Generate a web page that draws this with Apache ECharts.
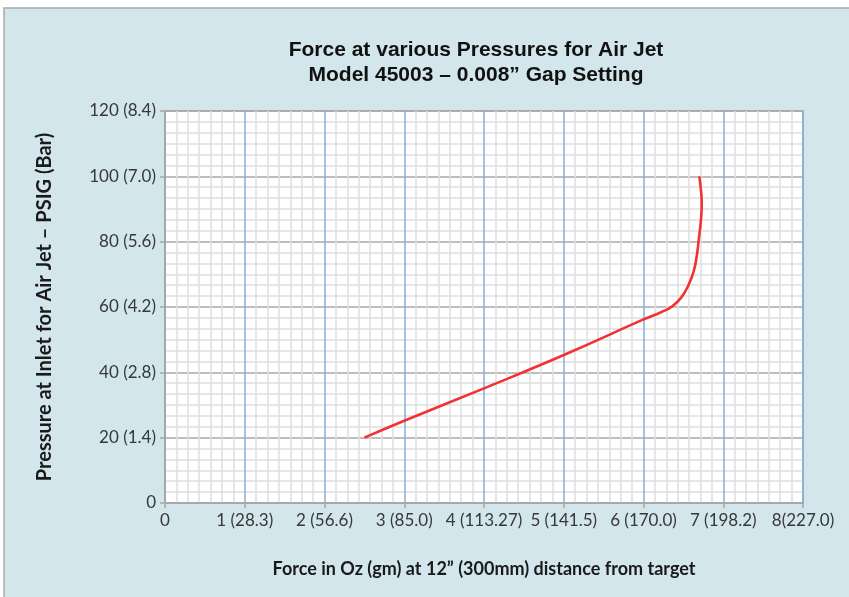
<!DOCTYPE html>
<html>
<head>
<meta charset="utf-8">
<script src="https://cdn.jsdelivr.net/npm/echarts@6/dist/echarts.min.js"></script>
<style>
html,body{margin:0;padding:0;background:#fff;}
#c{width:849px;height:597px;}
</style>
</head>
<body>
<div id="c"></div>
<script>
// Tick values and labels
const xTicks = [0, 1, 2, 3, 4, 5, 6, 7, 8];
const xTickLabels = ['0', '1 (28.3)', '2 (56.6)', '3 (85.0)', '4 (113.27)', '5 (141.5)', '6 (170.0)', '7 (198.2)', '8(227.0)'];
const yTicks = [0, 20, 40, 60, 80, 100, 120];
const yTickLabels = ['0', '20 (1.4)', '40 (2.8)', '60 (4.2)', '80 (5.6)', '100 (7.0)', '120 (8.4)'];

// Curve: force (oz) vs pressure (PSIG)
const forceOz = [2.5, 3.0, 4.0, 5.0, 6.0, 6.22, 6.36, 6.47, 6.56, 6.63, 6.67, 6.69, 6.72, 6.73, 6.72, 6.70];
const pressurePsig = [20, 25.2, 35.1, 45.3, 56.2, 58.4, 60.2, 62.8, 66.5, 71.0, 76.0, 80, 86.6, 91.7, 95.8, 100];

const titleLines = ['Force at various Pressures for Air Jet', 'Model 45003 \u2013 0.008\u201d Gap Setting'];
const xName = 'Force in Oz (gm) at 12\u201d (300mm) distance from target';
const yName = 'Pressure at Inlet for Air Jet \u2013 PSIG (Bar)';

const chart = echarts.init(document.getElementById('c'), null, {renderer: 'canvas'});

function labelFor(ticks, labels) {
  return function (v) {
    const i = ticks.findIndex(t => Math.abs(t - v) < 1e-9);
    return i >= 0 ? labels[i] : '';
  };
}

const lblFont = {fontFamily: 'Lato', fontSize: 17, color: '#383838'};

chart.setOption({
  animation: false,
  backgroundColor: 'transparent',
  graphic: [{
    type: 'rect', z: -10, silent: true,
    shape: {x: 4, y: 8, width: 900, height: 700},
    style: {fill: '#d2e6eb', stroke: '#a9a9a9', lineWidth: 1.5}
  }],
  title: {
    text: titleLines.join('\n'),
    left: 471, top: 33, textAlign: 'center',
    textStyle: {fontFamily: 'Liberation Sans', fontWeight: 'bold', fontSize: 21, lineHeight: 25, color: '#111'}
  },
  grid: {
    left: 165, right: 46, top: 111, bottom: 94,
    show: true, backgroundColor: '#ffffff', borderColor: '#a6a6a6', borderWidth: 1.5
  },
  xAxis: {
    type: 'value', min: 0, max: 8, interval: 1,
    name: xName, nameLocation: 'middle', nameGap: 57,
    nameTextStyle: {fontFamily: 'Lato', fontWeight: 'bold', fontSize: 18, color: '#1a1a1a'},
    axisLine: {show: true, lineStyle: {color: '#a6a6a6', width: 1.5}},
    axisTick: {show: true, length: 5, lineStyle: {color: '#a6a6a6', width: 1.5}},
    axisLabel: Object.assign({margin: 9, formatter: labelFor(xTicks, xTickLabels)}, lblFont),
    splitLine: {show: true, lineStyle: {color: '#85acd9', width: 1.5}},
    minorTick: {show: false, splitNumber: 7},
    minorSplitLine: {show: true, lineStyle: {color: '#e0e0e0', width: 1.5}}
  },
  yAxis: {
    type: 'value', min: 0, max: 120, interval: 20,
    name: yName, nameLocation: 'middle', nameGap: 110, nameRotate: 90,
    nameTextStyle: {fontFamily: 'Lato', fontWeight: 'bold', fontSize: 20, color: '#1a1a1a'},
    axisLine: {show: true, lineStyle: {color: '#a6a6a6', width: 1.5}},
    axisTick: {show: true, length: 5, lineStyle: {color: '#a6a6a6', width: 1.5}},
    axisLabel: Object.assign({margin: 9, formatter: labelFor(yTicks, yTickLabels)}, lblFont),
    splitLine: {show: true, lineStyle: {color: '#a9a9a9', width: 1.5}},
    minorTick: {show: false, splitNumber: 6},
    minorSplitLine: {show: true, lineStyle: {color: '#e0e0e0', width: 1.5}}
  },
  series: [{
    type: 'line',
    data: forceOz.map((x, i) => [x, pressurePsig[i]]),
    smooth: 0.5,
    showSymbol: false, symbol: 'none',
    lineStyle: {color: '#f03232', width: 2.6},
    z: 5
  }]
});
</script>
</body>
</html>
